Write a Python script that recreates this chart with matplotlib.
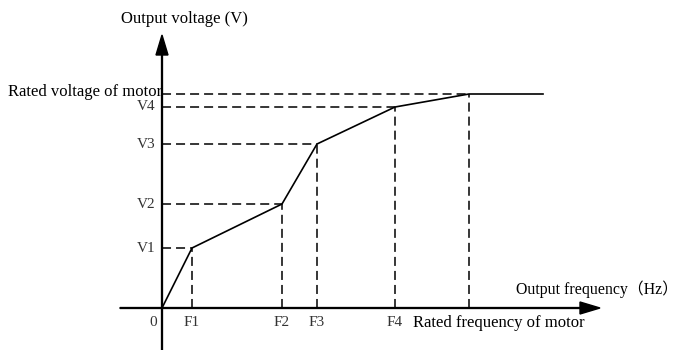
import numpy as np
import matplotlib.pyplot as plt

plt.rcParams['lines.scale_dashes'] = False

# break points of the V/F curve (arbitrary units, origin at 0)
freq = [0, 30, 120, 155, 233, 307]
volt = [0, 60, 104, 164, 201, 214]
f_end = 381  # flat part runs on past rated frequency

f_labels = ['F1', 'F2', 'F3', 'F4']
v_labels = ['V1', 'V2', 'V3', 'V4']

serif = ['Liberation Serif', 'Noto Sans CJK SC']
tick_font = dict(family='Liberation Serif', fontsize=11, color='#333333')

fig = plt.figure(figsize=(6.82, 3.5), dpi=100)
ax = fig.add_axes([0, 0, 1, 1])
ax.set_xlim(-162, 520)
ax.set_ylim(-42, 308)
ax.axis('off')

dash = (0, (6.5, 3.6))

# axes with arrow heads
ax.arrow(-42, 0, 480, 0, width=0.9, head_width=12, head_length=20,
         length_includes_head=True, fc='k', ec='k')
ax.arrow(0, -42, 0, 315, width=0.9, head_width=12, head_length=20,
         length_includes_head=True, fc='k', ec='k')

# guide lines
for f, v in zip(freq[1:], volt[1:]):
    ax.plot([f, f], [0, v], color='k', lw=1.1, linestyle=dash)
    ax.plot([0, f], [v, v], color='k', lw=1.1, linestyle=dash)

# curve
ax.plot(freq + [f_end], volt + [volt[-1]], color='k', lw=1.2)

# tick labels
for f, lab in zip(freq[1:5], f_labels):
    ax.text(f, -15, lab, ha='center', va='center', **tick_font)
for v, lab in zip(volt[1:5], v_labels):
    ax.text(-7, v, lab, ha='right', va='center', **tick_font)
ax.text(-9, -15, '0', ha='center', va='center', **tick_font)

ax.text(0, volt[-1] + 2, 'Rated voltage of motor', ha='right', va='center',
        family=serif, fontsize=12)
ax.text(251, -15, 'Rated frequency of motor', ha='left', va='center',
        family=serif, fontsize=12)
ax.text(22, 289, 'Output voltage (V)', ha='center', va='center',
        family=serif, fontsize=12)
ax.text(354, 19, 'Output frequency\uff08Hz\uff09', ha='left', va='center',
        family=serif, fontsize=11.4)

fig.savefig('out.png', dpi=100)
